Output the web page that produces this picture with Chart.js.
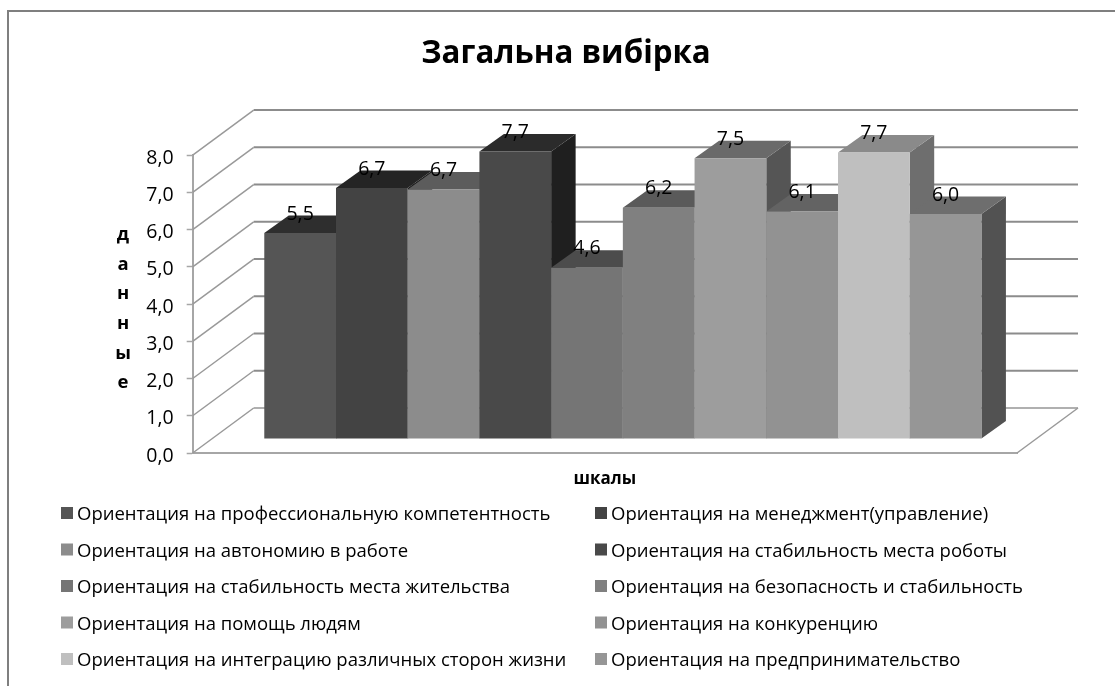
<!DOCTYPE html>
<html>
<head>
<meta charset="utf-8">
<title>Загальна вибірка</title>
<script src="https://cdn.jsdelivr.net/npm/chart.js@4"></script>
<style>
    html, body { margin: 0; padding: 0; background: #fff; }
    canvas { display: block; }
</style>
</head>
<body>
<canvas id="chart" width="1115" height="686"></canvas>
<script>
const categories = [''];
const seriesNames = [
    'Ориентация на профессиональную компетентность',
    'Ориентация на менеджмент(управление)',
    'Ориентация на автономию в работе',
    'Ориентация на стабильность места роботы',
    'Ориентация на стабильность места жительства',
    'Ориентация на безопасность и стабильность',
    'Ориентация на помощь людям',
    'Ориентация на конкуренцию',
    'Ориентация на интеграцию различных сторон жизни',
    'Ориентация на предпринимательство'
];
const seriesValues = [5.53, 6.74, 6.70, 7.72, 4.60, 6.21, 7.54, 6.11, 7.69, 6.04];
const yTicks = [0, 1, 2, 3, 4, 5, 6, 7, 8];
const frontColors = ['#555555', '#434343', '#8c8c8c', '#494949', '#757575', '#808080', '#9d9d9d', '#929292', '#bfbfbf', '#969696'];
const topColors = ['#2e2e2e', '#242424', '#5c5c5c', '#2b2b2b', '#4c4c4c', '#5a5a5a', '#6a6a6a', '#636363', '#8a8a8a', '#6e6e6e'];
const sideColors = ['#262626', '#1e1e1e', '#4c4c4c', '#1f1f1f', '#3e3e3e', '#4a4a4a', '#555555', '#505050', '#6e6e6e', '#525252'];

const FONT = '"Open Sans", sans-serif';
const wall = { dx: 61, dy: -45 };      // смещение задней стенки
const barShift = { dx: 18, dy: -14 };  // столбцы стоят в глубине пола
const barDepth = { dx: 24.5, dy: -17.5 };

function formatValue(v) {
    return v.toFixed(1).replace('.', ',');
}

function line(ctx, x1, y1, x2, y2) {
    ctx.beginPath();
    ctx.moveTo(x1, y1);
    ctx.lineTo(x2, y2);
    ctx.stroke();
}

function polygon(ctx, points, color) {
    ctx.fillStyle = color;
    ctx.beginPath();
    points.forEach((p, i) => i ? ctx.lineTo(p[0], p[1]) : ctx.moveTo(p[0], p[1]));
    ctx.closePath();
    ctx.fill();
}

const frame3d = {
    id: 'frame3d',
    beforeDraw(chart) {
        const ctx = chart.ctx;
        ctx.save();
        ctx.strokeStyle = '#7f7f7f';
        ctx.lineWidth = 2;
        ctx.beginPath();
        ctx.moveTo(8, chart.height);
        ctx.lineTo(8, 11);
        ctx.lineTo(chart.width, 11);
        ctx.stroke();
        ctx.restore();
    },
    // стенка и пол рисуются до столбцов, от тех же шкал
    beforeDatasetsDraw(chart) {
        const ctx = chart.ctx;
        const y = chart.scales.y;
        const area = chart.chartArea;
        ctx.save();
        yTicks.forEach(t => {
            const py = y.getPixelForValue(t);
            ctx.lineWidth = 2;
            ctx.strokeStyle = t === 0 ? '#b0b0b0' : '#8c8c8c';
            line(ctx, area.left + wall.dx, py + wall.dy, area.right + wall.dx, py + wall.dy);
            ctx.lineWidth = 1.5;
            ctx.strokeStyle = '#999999';
            line(ctx, area.left, py, area.left + wall.dx, py + wall.dy);
        });
        ctx.strokeStyle = '#999999';
        line(ctx, area.right, area.bottom, area.right + wall.dx, area.bottom + wall.dy);
        ctx.restore();

        // слева направо: следующий столбец перекрывает боковую грань предыдущего
        chart.data.datasets.forEach((ds, i) => {
            const bar = chart.getDatasetMeta(i).data[0];
            const left = bar.x - bar.width / 2 + barShift.dx;
            const right = left + bar.width;
            const top = bar.y + barShift.dy;
            const base = bar.base + barShift.dy;
            polygon(ctx, [[right, top], [right + barDepth.dx, top + barDepth.dy],
                [right + barDepth.dx, base + barDepth.dy], [right, base]], sideColors[i]);
            polygon(ctx, [[left, top], [left + barDepth.dx, top + barDepth.dy],
                [right + barDepth.dx, top + barDepth.dy], [right, top]], topColors[i]);
            ctx.save();
            ctx.translate(barShift.dx, barShift.dy);
            bar.draw(ctx);
            ctx.restore();
        });

        ctx.save();
        ctx.fillStyle = '#000';
        ctx.font = '19.5px ' + FONT;
        ctx.textAlign = 'center';
        ctx.textBaseline = 'middle';
        chart.data.datasets.forEach((ds, i) => {
            const bar = chart.getDatasetMeta(i).data[0];
            ctx.fillText(formatValue(ds.data[0]), bar.x + barShift.dx, bar.y + barShift.dy - 19);
        });
        ctx.restore();
        return false;
    },
    afterDraw(chart) {
        const ctx = chart.ctx;
        ctx.save();
        // подпись оси Y идёт буквами сверху вниз
        ctx.fillStyle = '#000';
        ctx.font = 'bold 18.5px ' + FONT;
        ctx.textAlign = 'center';
        ctx.textBaseline = 'middle';
        Array.from('данные').forEach((ch, i) => ctx.fillText(ch, 123, 235 + i * 29.6));

        // легенда в две колонки
        ctx.font = '18.5px ' + FONT;
        ctx.textAlign = 'left';
        chart.data.datasets.forEach((ds, i) => {
            const col = i % 2;
            const row = Math.floor(i / 2);
            const x = col ? 595 : 61;
            const py = 513 + row * 36.5;
            ctx.fillStyle = ds.backgroundColor;
            ctx.fillRect(x, py - 6, 12, 12);
            ctx.fillStyle = '#000';
            ctx.fillText(ds.label, x + 16, py + 2);
        });
        ctx.restore();
    }
};

new Chart(document.getElementById('chart'), {
    type: 'bar',
    data: {
        labels: categories,
        datasets: seriesNames.map((name, i) => ({
            label: name,
            data: [seriesValues[i]],
            backgroundColor: frontColors[i]
        }))
    },
    options: {
        responsive: false,
        animation: false,
        layout: { padding: { left: 115, right: 98, top: 0, bottom: 0 } },
        datasets: { bar: { barPercentage: 1, categoryPercentage: 0.87 } },
        plugins: {
            legend: { display: false },
            tooltip: { enabled: false },
            title: {
                display: true,
                text: 'Загальна вибірка',
                color: '#000',
                font: { family: FONT, size: 31.3, weight: 'bold', lineHeight: 1.2 },
                padding: { top: 35.5, bottom: 82 }
            }
        },
        scales: {
            x: {
                afterFit(axis) { axis.height = 233; },
                grid: { drawOnChartArea: false, drawTicks: false },
                border: { color: '#a6a6a6', width: 2 },
                ticks: { display: false },
                title: {
                    display: true,
                    text: 'шкалы',
                    color: '#000',
                    font: { family: FONT, size: 17, weight: 'bold' },
                    padding: { top: 0, bottom: 197 }
                }
            },
            y: {
                min: 0,
                max: 8,
                afterFit(axis) { axis.width = 77.7; },
                grid: { drawOnChartArea: false, tickLength: 6, color: '#a6a6a6', tickWidth: 1.5 },
                border: { color: '#a6a6a6', width: 2 },
                afterBuildTicks(axis) { axis.ticks = yTicks.map(v => ({ value: v })); },
                ticks: {
                    color: '#000',
                    padding: 13,
                    labelOffset: 3,
                    font: { family: FONT, size: 19.5 },
                    callback: v => formatValue(v)
                }
            }
        }
    },
    plugins: [frame3d]
});
</script>
</body>
</html>
